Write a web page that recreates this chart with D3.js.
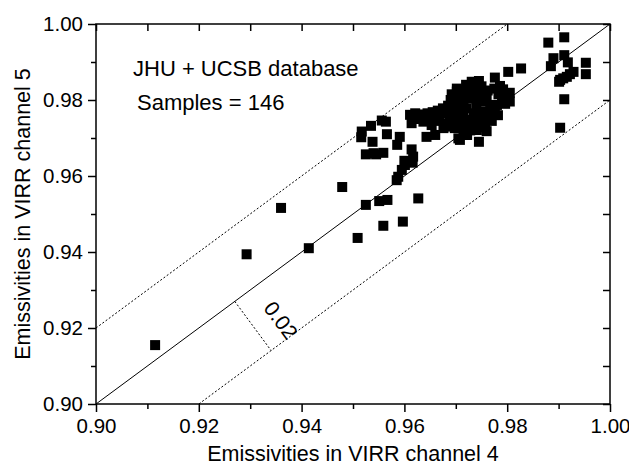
<!DOCTYPE html>
<html>
<head>
<meta charset="utf-8">
<script src="https://cdn.jsdelivr.net/npm/d3@7"></script>
<style>
  body { margin: 0; background: #fff; }
  svg { display: block; font-family: "Liberation Sans", Arial, sans-serif; }
</style>
</head>
<body>
<script>

// emissivity pairs: [channel 4, channel 5]
var ch4 = [
  0.9115, 0.9293, 0.9360, 0.9414, 0.9509, 0.9479, 0.9525, 0.9551, 0.9567, 0.9627,
  0.9559, 0.9597, 0.9517, 0.9535, 0.9516, 0.9538, 0.9525, 0.9545, 0.9559, 0.9564,
  0.9556, 0.9566, 0.9591, 0.9586, 0.9614, 0.9617, 0.9616, 0.9601, 0.9595, 0.9588,
  0.9585, 0.9621, 0.9611, 0.9627, 0.9643, 0.9663, 0.9676, 0.9682, 0.9614, 0.9637,
  0.9653, 0.9643, 0.9660, 0.9676, 0.9698, 0.9715, 0.9705, 0.9721, 0.9741, 0.9745,
  0.9708, 0.9880, 0.9911, 0.9890, 0.9885, 0.9911, 0.9918, 0.9953, 0.9953, 0.9903,
  0.9909, 0.9916, 0.9922, 0.9929, 0.9901, 0.9911, 0.9903, 0.9827, 0.9802, 0.9776,
  0.9786, 0.9805, 0.9805, 0.9792, 0.9731, 0.9744, 0.9715, 0.9702, 0.9767, 0.9776,
  0.9757, 0.9737, 0.9702, 0.9720, 0.9735, 0.9750, 0.9762, 0.9690, 0.9702, 0.9715,
  0.9728, 0.9741, 0.9754, 0.9767, 0.9780, 0.9771, 0.9721, 0.9708, 0.9695, 0.9685,
  0.9675, 0.9665, 0.9655, 0.9645, 0.9633, 0.9730, 0.9745, 0.9760, 0.9718, 0.9705,
  0.9692, 0.9740, 0.9752, 0.9735, 0.9745, 0.9730, 0.9715, 0.9700, 0.9688, 0.9760,
  0.9770, 0.9782, 0.9790, 0.9798, 0.9783, 0.9775, 0.9725, 0.9712, 0.9698, 0.9665,
  0.9650, 0.9640, 0.9628, 0.9755, 0.9742, 0.9728, 0.9731, 0.9745, 0.9722, 0.9690,
  0.9680, 0.9760, 0.9796, 0.9540, 0.9600, 0.9668
];
var ch5 = [
  0.9155, 0.9394, 0.9516, 0.9410, 0.9437, 0.9571, 0.9524, 0.9534, 0.9537, 0.9541,
  0.9469, 0.9480, 0.9717, 0.9732, 0.9702, 0.9690, 0.9657, 0.9657, 0.9661, 0.9743,
  0.9746, 0.9710, 0.9703, 0.9682, 0.9670, 0.9651, 0.9635, 0.9629, 0.9616, 0.9598,
  0.9589, 0.9765, 0.9761, 0.9752, 0.9756, 0.9761, 0.9765, 0.9769, 0.9739, 0.9743,
  0.9734, 0.9703, 0.9708, 0.9726, 0.9726, 0.9717, 0.9699, 0.9708, 0.9721, 0.9690,
  0.9695, 0.9951, 0.9965, 0.9910, 0.9889, 0.9918, 0.9899, 0.9898, 0.9868, 0.9853,
  0.9857, 0.9861, 0.9868, 0.9874, 0.9848, 0.9802, 0.9727, 0.9883, 0.9874, 0.9859,
  0.9837, 0.9819, 0.9796, 0.9828, 0.9835, 0.9831, 0.9822, 0.9822, 0.9765, 0.9782,
  0.9730, 0.9739, 0.9830, 0.9840, 0.9842, 0.9836, 0.9825, 0.9800, 0.9792, 0.9800,
  0.9804, 0.9800, 0.9796, 0.9787, 0.9787, 0.9774, 0.9778, 0.9774, 0.9774, 0.9785,
  0.9778, 0.9772, 0.9768, 0.9765, 0.9762, 0.9815, 0.9815, 0.9810, 0.9825, 0.9812,
  0.9815, 0.9785, 0.9770, 0.9765, 0.9752, 0.9748, 0.9755, 0.9760, 0.9752, 0.9752,
  0.9745, 0.9760, 0.9800, 0.9812, 0.9815, 0.9830, 0.9733, 0.9740, 0.9742, 0.9748,
  0.9745, 0.9752, 0.9750, 0.9740, 0.9728, 0.9720, 0.9848, 0.9850, 0.9708, 0.9730,
  0.9738, 0.9718, 0.9790, 0.9660, 0.9640, 0.9745
];

var majorTicks = [0.90, 0.92, 0.94, 0.96, 0.98, 1.00];
var minorTicks = [0.91, 0.93, 0.95, 0.97, 0.99];
var offsetLines = [0, 0.02, -0.02];   // y = x + offset
var texts = ["JHU + UCSB database", "Samples = 146"];
var xTitle = "Emissivities in VIRR channel 4";
var yTitle = "Emissivities in VIRR channel 5";
var gapLabel = "0.02";

var W = 629, H = 467;
var m = {left: 96, right: 19, top: 24, bottom: 63};

var svg = d3.select("body").append("svg")
    .attr("width", W)
    .attr("height", H);

var x = d3.scaleLinear().domain([0.9, 1.0]).range([m.left, W - m.right]);
var y = d3.scaleLinear().domain([0.9, 1.0]).range([H - m.bottom, m.top]);
var fmt = d3.format(".2f");

// clip the reference lines to the frame
svg.append("clipPath").attr("id", "clip")
  .append("rect")
    .attr("x", x(0.9)).attr("y", y(1.0))
    .attr("width", x(1.0) - x(0.9)).attr("height", y(0.9) - y(1.0));

var lines = svg.append("g").attr("clip-path", "url(#clip)");
offsetLines.forEach(function(o) {
    lines.append("line")
        .attr("x1", x(0.9)).attr("y1", y(0.9 + o))
        .attr("x2", x(1.0)).attr("y2", y(1.0 + o))
        .attr("stroke", "#000")
        .attr("stroke-width", 1)
        .attr("stroke-dasharray", o === 0 ? null : "2,2");
});

// perpendicular gap marker between the 1:1 line and the lower line
var p0 = [x(0.927), y(0.927)];
var dx = x(1.0) - x(0.9), dy = y(1.0) - y(0.9);
var len = Math.sqrt(dx * dx + dy * dy);
var d = [dx / len, dy / len];
var n = [-d[1], d[0]];
var q = [x(0.92), y(0.9)];
var t = (q[0] - p0[0]) * n[0] + (q[1] - p0[1]) * n[1];
var p1 = [p0[0] + t * n[0], p0[1] + t * n[1]];
svg.append("line")
    .attr("x1", p0[0]).attr("y1", p0[1])
    .attr("x2", p1[0]).attr("y2", p1[1])
    .attr("stroke", "#000")
    .attr("stroke-width", 1)
    .attr("stroke-dasharray", "2,2");

var mid = [(p0[0] + p1[0]) / 2, (p0[1] + p1[1]) / 2];
var lp = [mid[0] + 26 * d[0] + 12 * n[0], mid[1] + 26 * d[1] + 12 * n[1]];
var ang = Math.atan2(n[1], n[0]) * 180 / Math.PI;
svg.append("text")
    .attr("transform", "translate(" + lp[0] + "," + lp[1] + ") rotate(" + ang + ")")
    .attr("text-anchor", "middle")
    .attr("dominant-baseline", "central")
    .attr("font-size", 21)
    .text(gapLabel);

// points
var pts = ch4.map(function(v, i) { return [v, ch5[i]]; });
var sz = 10;
svg.append("g").selectAll("rect")
    .data(pts)
  .enter().append("rect")
    .attr("x", function(p) { return x(p[0]) - sz / 2; })
    .attr("y", function(p) { return y(p[1]) - sz / 2; })
    .attr("width", sz)
    .attr("height", sz)
    .attr("fill", "#000");

// axes
function styleAxis(g) {
    g.select(".domain").remove();
    g.selectAll("line").attr("stroke", "#000").attr("stroke-width", 1.5);
    g.selectAll("text").attr("font-size", 20.5).attr("fill", "#000");
}

var bottom = y(0.9), right = x(1.0);

svg.append("g").attr("transform", "translate(0," + bottom + ")")
    .call(d3.axisBottom(x).tickValues(majorTicks).tickSize(8).tickPadding(6).tickFormat(fmt))
    .call(styleAxis);
svg.append("g").attr("transform", "translate(0," + bottom + ")")
    .call(d3.axisBottom(x).tickValues(minorTicks).tickSize(5).tickFormat(""))
    .call(styleAxis);
svg.append("g").attr("transform", "translate(" + m.left + ",0)")
    .call(d3.axisLeft(y).tickValues(majorTicks).tickSize(8).tickPadding(5).tickFormat(fmt))
    .call(styleAxis);
svg.append("g").attr("transform", "translate(" + m.left + ",0)")
    .call(d3.axisLeft(y).tickValues(minorTicks).tickSize(5).tickFormat(""))
    .call(styleAxis);
svg.append("g").attr("transform", "translate(0," + m.top + ")")
    .call(d3.axisTop(x).tickValues(majorTicks.concat(minorTicks)).tickSize(-7).tickFormat(""))
    .call(styleAxis);
svg.append("g").attr("transform", "translate(" + right + ",0)")
    .call(d3.axisRight(y).tickValues(majorTicks.concat(minorTicks)).tickSize(-7).tickFormat(""))
    .call(styleAxis);

// frame
svg.append("rect")
    .attr("x", m.left).attr("y", m.top)
    .attr("width", right - m.left).attr("height", bottom - m.top)
    .attr("fill", "none")
    .attr("stroke", "#000")
    .attr("stroke-width", 1.5);

// annotations
svg.append("text").attr("x", 133).attr("y", 76).attr("font-size", 22).text(texts[0]);
svg.append("text").attr("x", 137).attr("y", 110).attr("font-size", 22).text(texts[1]);

svg.append("text")
    .attr("x", (m.left + right) / 2).attr("y", 461)
    .attr("text-anchor", "middle")
    .attr("font-size", 21.5)
    .text(xTitle);
svg.append("text")
    .attr("transform", "translate(30," + (m.top + bottom) / 2 + ") rotate(-90)")
    .attr("text-anchor", "middle")
    .attr("font-size", 21.5)
    .text(yTitle);

</script>
</body>
</html>
